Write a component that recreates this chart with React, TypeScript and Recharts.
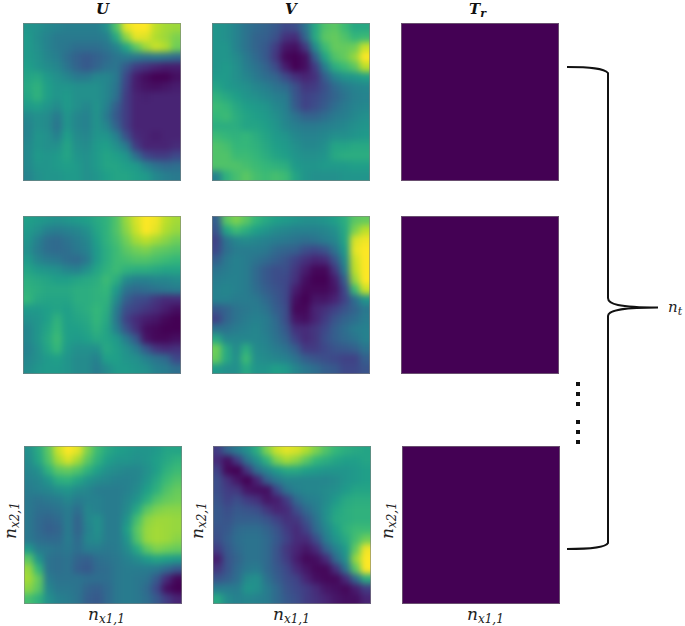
import { ScatterChart, Scatter, XAxis, YAxis } from 'recharts'

// values are 0-100 on the viridis scale, read row by row from the top of each panel
const uFirst = [
  [52, 50, 47, 45, 43, 43, 43, 43, 50, 72, 96, 100, 100, 90, 86, 85],
  [54, 49, 45, 41, 41, 41, 41, 41, 43, 60, 82, 96, 95, 88, 85, 80],
  [54, 50, 45, 41, 39, 36, 36, 36, 39, 45, 58, 74, 85, 92, 88, 78],
  [54, 51, 46, 43, 36, 31, 28, 31, 34, 39, 41, 40, 38, 40, 38, 34],
  [56, 52, 49, 46, 39, 32, 28, 32, 37, 39, 28, 18, 14, 10, 8, 8],
  [58, 60, 54, 50, 46, 41, 41, 46, 46, 41, 22, 8, 3, 0, 0, 4],
  [60, 64, 56, 52, 52, 50, 50, 50, 46, 39, 20, 8, 5, 4, 6, 8],
  [58, 64, 56, 52, 54, 50, 50, 50, 46, 37, 18, 10, 9, 10, 10, 10],
  [54, 56, 52, 48, 54, 50, 46, 51, 44, 30, 18, 10, 10, 10, 10, 10],
  [47, 50, 48, 41, 52, 46, 44, 51, 41, 28, 18, 10, 10, 10, 10, 10],
  [45, 50, 48, 39, 52, 46, 44, 51, 46, 32, 18, 10, 10, 10, 10, 10],
  [45, 52, 50, 44, 56, 48, 46, 52, 52, 44, 25, 12, 10, 8, 10, 10],
  [47, 52, 50, 50, 58, 50, 48, 54, 56, 50, 41, 18, 10, 10, 10, 12],
  [47, 54, 52, 54, 58, 52, 50, 54, 58, 56, 52, 36, 22, 18, 18, 22],
  [47, 52, 52, 54, 56, 54, 50, 54, 58, 58, 56, 54, 45, 38, 34, 36],
  [45, 50, 52, 52, 54, 54, 50, 52, 56, 58, 58, 56, 54, 47, 43, 41],
]

const vFirst = [
  [52, 50, 45, 38, 34, 32, 28, 22, 24, 38, 60, 72, 74, 68, 60, 60],
  [52, 50, 45, 38, 32, 30, 25, 14, 12, 32, 60, 74, 76, 72, 66, 68],
  [52, 52, 45, 38, 32, 28, 18, 6, 4, 16, 48, 68, 76, 76, 78, 92],
  [52, 52, 48, 41, 34, 28, 16, 2, 0, 4, 30, 58, 72, 76, 84, 100],
  [52, 54, 50, 43, 38, 32, 23, 8, 0, 4, 18, 43, 62, 68, 74, 90],
  [54, 54, 50, 46, 41, 36, 32, 23, 14, 10, 14, 30, 45, 51, 53, 57],
  [58, 54, 52, 50, 46, 43, 38, 34, 25, 16, 18, 25, 34, 41, 45, 47],
  [64, 60, 56, 52, 50, 47, 43, 41, 27, 20, 22, 27, 32, 38, 43, 45],
  [68, 66, 60, 56, 54, 52, 47, 43, 29, 20, 24, 29, 36, 41, 45, 47],
  [66, 68, 62, 58, 56, 54, 50, 45, 38, 32, 32, 36, 41, 43, 47, 50],
  [62, 62, 62, 58, 58, 56, 52, 47, 43, 41, 41, 43, 45, 47, 50, 52],
  [68, 66, 64, 66, 62, 58, 54, 52, 47, 45, 45, 47, 50, 50, 52, 54],
  [72, 70, 66, 66, 64, 60, 56, 54, 50, 47, 47, 50, 58, 58, 60, 60],
  [72, 72, 68, 68, 66, 62, 58, 56, 52, 50, 50, 52, 60, 62, 62, 62],
  [72, 72, 72, 70, 68, 66, 64, 62, 54, 52, 52, 54, 54, 54, 56, 56],
  [44, 64, 70, 74, 70, 68, 70, 68, 58, 52, 50, 50, 50, 52, 52, 52],
]

const uSecond = [
  [56, 54, 52, 50, 52, 54, 56, 60, 64, 72, 84, 94, 100, 98, 90, 86],
  [54, 50, 44, 42, 44, 46, 50, 58, 64, 72, 82, 92, 100, 96, 88, 84],
  [52, 44, 36, 34, 38, 42, 46, 56, 64, 70, 78, 86, 90, 86, 82, 78],
  [50, 42, 36, 34, 36, 40, 44, 54, 62, 68, 74, 78, 80, 76, 74, 72],
  [54, 46, 42, 40, 36, 34, 40, 54, 62, 68, 70, 72, 72, 70, 68, 66],
  [58, 54, 52, 50, 46, 44, 50, 58, 64, 68, 64, 62, 62, 60, 58, 58],
  [62, 60, 58, 56, 56, 58, 60, 62, 68, 62, 48, 44, 44, 46, 46, 48],
  [64, 62, 60, 60, 60, 62, 62, 64, 66, 54, 38, 34, 36, 38, 40, 42],
  [66, 60, 58, 58, 58, 62, 62, 64, 64, 48, 30, 24, 22, 16, 12, 12],
  [54, 54, 56, 58, 56, 60, 62, 66, 62, 42, 24, 20, 16, 12, 8, 4],
  [50, 52, 56, 64, 56, 58, 60, 66, 60, 40, 20, 12, 8, 6, 2, 0],
  [46, 52, 58, 66, 56, 56, 58, 64, 58, 44, 26, 14, 4, 2, 0, 0],
  [46, 52, 60, 68, 56, 54, 56, 60, 58, 54, 42, 28, 6, 2, 2, 4],
  [44, 50, 58, 66, 54, 50, 50, 50, 60, 56, 50, 42, 28, 16, 12, 14],
  [46, 50, 54, 56, 52, 48, 48, 44, 56, 56, 52, 50, 44, 38, 34, 22],
  [48, 52, 54, 54, 52, 48, 48, 42, 48, 54, 54, 52, 50, 44, 42, 36],
]

const vSecond = [
  [30, 74, 80, 74, 66, 60, 56, 54, 52, 50, 50, 52, 56, 62, 74, 76],
  [26, 58, 68, 62, 56, 52, 48, 46, 44, 44, 44, 46, 50, 60, 80, 90],
  [20, 38, 46, 48, 46, 44, 42, 40, 38, 36, 38, 42, 46, 58, 94, 98],
  [22, 36, 42, 42, 42, 40, 34, 32, 30, 24, 22, 26, 38, 54, 96, 100],
  [30, 40, 44, 42, 38, 34, 30, 26, 20, 14, 10, 12, 26, 48, 92, 100],
  [38, 42, 44, 42, 34, 28, 24, 24, 16, 8, 2, 2, 16, 42, 90, 100],
  [42, 44, 44, 42, 34, 28, 24, 22, 14, 4, 0, 0, 8, 30, 84, 100],
  [44, 46, 44, 42, 36, 30, 26, 22, 8, 2, 2, 2, 6, 22, 68, 92],
  [44, 44, 42, 42, 40, 34, 28, 22, 4, 0, 6, 6, 10, 20, 36, 52],
  [28, 32, 38, 40, 42, 38, 30, 24, 2, 2, 10, 14, 20, 26, 32, 40],
  [20, 32, 38, 42, 44, 42, 34, 24, 6, 4, 10, 18, 26, 32, 36, 42],
  [38, 38, 42, 44, 46, 42, 36, 28, 14, 12, 16, 22, 30, 36, 42, 44],
  [60, 46, 46, 46, 46, 44, 38, 32, 20, 12, 16, 24, 30, 34, 38, 44],
  [78, 60, 48, 62, 48, 46, 42, 38, 30, 18, 18, 22, 26, 28, 30, 38],
  [76, 60, 50, 68, 50, 48, 46, 44, 38, 30, 26, 24, 22, 20, 20, 30],
  [54, 50, 50, 60, 52, 52, 56, 54, 46, 40, 36, 30, 28, 22, 22, 26],
]

const uLast = [
  [50, 60, 74, 92, 100, 96, 80, 68, 60, 56, 54, 52, 52, 54, 58, 58],
  [48, 58, 72, 86, 94, 86, 74, 64, 56, 52, 52, 50, 52, 56, 60, 64],
  [46, 50, 64, 74, 76, 72, 64, 56, 50, 48, 46, 46, 50, 56, 64, 68],
  [44, 46, 52, 62, 64, 58, 52, 48, 46, 44, 44, 46, 52, 60, 68, 72],
  [42, 44, 46, 50, 52, 48, 46, 42, 42, 42, 44, 48, 56, 64, 72, 76],
  [40, 38, 40, 42, 46, 42, 44, 44, 42, 42, 46, 52, 62, 72, 76, 78],
  [40, 36, 36, 38, 42, 36, 46, 44, 42, 42, 48, 60, 74, 80, 82, 82],
  [40, 34, 32, 34, 42, 32, 46, 50, 42, 42, 52, 70, 82, 85, 85, 84],
  [40, 34, 30, 32, 42, 32, 44, 50, 42, 42, 56, 74, 84, 86, 85, 84],
  [40, 36, 34, 34, 42, 34, 46, 48, 42, 42, 52, 72, 84, 86, 85, 82],
  [54, 42, 40, 38, 40, 36, 42, 42, 40, 42, 48, 60, 74, 80, 78, 76],
  [74, 52, 38, 36, 38, 32, 30, 36, 38, 40, 44, 48, 54, 58, 56, 54],
  [84, 66, 38, 36, 38, 30, 28, 34, 36, 40, 42, 42, 42, 40, 34, 28],
  [86, 76, 42, 38, 38, 38, 36, 36, 36, 40, 42, 40, 38, 28, 12, 2],
  [82, 74, 46, 40, 40, 38, 32, 30, 34, 40, 42, 40, 34, 22, 4, 0],
  [70, 64, 50, 44, 42, 38, 30, 28, 34, 40, 42, 40, 36, 28, 18, 10],
]

const vLast = [
  [18, 32, 42, 50, 62, 80, 92, 96, 94, 88, 80, 72, 66, 62, 60, 58],
  [12, 4, 18, 38, 50, 64, 80, 86, 82, 74, 66, 62, 58, 56, 56, 58],
  [20, 2, 0, 16, 36, 46, 54, 60, 60, 56, 54, 52, 52, 52, 54, 56],
  [24, 14, 6, 0, 10, 30, 40, 46, 46, 46, 46, 46, 48, 52, 54, 56],
  [24, 18, 16, 6, 4, 4, 22, 38, 44, 46, 46, 48, 50, 54, 58, 58],
  [26, 20, 24, 18, 14, 6, 8, 18, 34, 42, 44, 48, 54, 60, 62, 62],
  [28, 24, 28, 26, 24, 16, 10, 12, 24, 34, 42, 50, 58, 62, 64, 64],
  [28, 26, 30, 30, 30, 26, 20, 14, 16, 26, 38, 50, 60, 62, 64, 64],
  [26, 28, 34, 36, 36, 32, 26, 18, 12, 20, 34, 46, 56, 64, 68, 68],
  [24, 30, 36, 38, 38, 34, 28, 20, 12, 12, 24, 42, 52, 60, 70, 78],
  [18, 28, 34, 38, 38, 34, 26, 16, 10, 6, 12, 30, 44, 54, 76, 98],
  [8, 26, 32, 38, 38, 34, 26, 18, 8, 2, 4, 12, 34, 50, 84, 100],
  [16, 26, 34, 40, 42, 34, 28, 22, 12, 6, 2, 2, 14, 38, 74, 100],
  [26, 30, 36, 48, 50, 38, 30, 24, 20, 10, 4, 2, 2, 12, 34, 62],
  [42, 42, 42, 52, 50, 42, 34, 26, 22, 18, 12, 6, 4, 2, 8, 18],
  [60, 48, 44, 46, 44, 42, 34, 28, 24, 18, 14, 10, 6, 4, 4, 10],
]

// the Tr panels are flat, one cell is enough
const trFlat = [[0]]

const columnTitles = ['U', 'V', 'T']
const VIRIDIS = ['#440154', '#482878', '#3e4989', '#31688e', '#26828e', '#1f9e89', '#35b779', '#6ece58', '#b5de2b', '#fde725']

const SIZE = 158
const PAD = 14

function hex(c: string) {
  return [1, 3, 5].map((i) => parseInt(c.slice(i, i + 2), 16))
}

function viridis(v: number) {
  const t = (Math.min(100, Math.max(0, v)) / 100) * (VIRIDIS.length - 1)
  const i = Math.min(VIRIDIS.length - 2, Math.floor(t))
  const a = hex(VIRIDIS[i])
  const b = hex(VIRIDIS[i + 1])
  const c = a.map((x, k) => Math.round(x + (b[k] - x) * (t - i)))
  return `rgb(${c[0]},${c[1]},${c[2]})`
}

// square cell, edge cells run on past the plot so the blur doesn't fade at the frame
function Cell(props: any) {
  const { cx, cy, payload } = props
  const { row, col, n, v } = payload
  const s = SIZE / n
  const x0 = col === 0 ? cx - s / 2 - PAD : cx - s / 2 - 0.5
  const x1 = col === n - 1 ? cx + s / 2 + PAD : cx + s / 2 + 0.5
  const y0 = row === 0 ? cy - s / 2 - PAD : cy - s / 2 - 0.5
  const y1 = row === n - 1 ? cy + s / 2 + PAD : cy + s / 2 + 0.5
  return <rect x={x0} y={y0} width={x1 - x0} height={y1 - y0} fill={viridis(v)} />
}

function Heatmap({ grid, left, top, blur }: { grid: number[][]; left: number; top: number; blur: number }) {
  const n = grid.length
  const data = grid.flatMap((r, row) => r.map((v, col) => ({ x: col + 0.5, y: row + 0.5, v, row, col, n })))
  return (
    <div style={{ position: 'absolute', left, top, width: SIZE, height: SIZE, overflow: 'hidden' }}>
      <div style={{ position: 'absolute', left: -PAD, top: -PAD, filter: `blur(${blur}px)` }}>
        <ScatterChart
          width={SIZE + PAD * 2}
          height={SIZE + PAD * 2}
          margin={{ top: PAD, right: PAD, bottom: PAD, left: PAD }}
        >
          <XAxis type="number" dataKey="x" domain={[0, n]} hide />
          <YAxis type="number" dataKey="y" domain={[0, n]} reversed hide />
          <Scatter data={data} shape={Cell} isAnimationActive={false} />
        </ScatterChart>
      </div>
      <div style={{ position: 'absolute', inset: 0, boxShadow: 'inset 0 0 0 1px rgba(130,130,130,0.6)' }} />
    </div>
  )
}

const MATH = { fontFamily: '"DejaVu Serif", serif', fontStyle: 'italic' as const, fill: '#222' }

function XLabel({ x }: { x: number }) {
  return (
    <text x={x} y={620} {...MATH} fontSize={17}>
      n<tspan fontSize={12} dy={3}>x1,1</tspan>
    </text>
  )
}

function YLabel({ x }: { x: number }) {
  return (
    <text transform={`translate(${x},539) rotate(-90)`} {...MATH} fontSize={17}>
      n<tspan fontSize={12} dy={3}>x2,1</tspan>
    </text>
  )
}

const dotRows = [384, 394, 404, 422, 432, 442]

export default function App() {
  return (
    <div style={{ position: 'absolute', left: 0, top: 0, width: 685, height: 626, background: '#fff', overflow: 'hidden' }}>
      <Heatmap grid={uFirst} left={23} top={23} blur={3} />
      <Heatmap grid={vFirst} left={212} top={23} blur={3} />
      <Heatmap grid={trFlat} left={401} top={23} blur={0} />
      <Heatmap grid={uSecond} left={23} top={216} blur={3} />
      <Heatmap grid={vSecond} left={212} top={216} blur={3} />
      <Heatmap grid={trFlat} left={401} top={216} blur={0} />
      <Heatmap grid={uLast} left={24} top={446} blur={3} />
      <Heatmap grid={vLast} left={213} top={446} blur={3} />
      <Heatmap grid={trFlat} left={402} top={446} blur={0} />
      <svg width={685} height={626} style={{ position: 'absolute', left: 0, top: 0 }}>
        <g fontFamily='"DejaVu Serif", serif' fontWeight="bold" fontStyle="italic" fontSize={15} fill="#111">
          <text x={96} y={14}>{columnTitles[0]}</text>
          <text x={285} y={14}>{columnTitles[1]}</text>
          <text x={469} y={14}>
            {columnTitles[2]}
            <tspan fontSize={11} dy={3}>r</tspan>
          </text>
        </g>
        <XLabel x={88} />
        <XLabel x={273} />
        <XLabel x={467} />
        <YLabel x={16} />
        <YLabel x={203} />
        <YLabel x={393} />
        <text x={668} y={312} {...MATH} fontSize={15}>
          n<tspan fontSize={11} dy={3}>t</tspan>
        </text>
        <path
          d="M567 67 C590 67 604 68 608 73 L608 298 C608 304 618 307.5 658 307.5 C618 307.5 608 311 608 316 L608 543 C606 547 590 549 567 549"
          fill="none"
          stroke="#111"
          strokeWidth={2}
        />
        {dotRows.map((y) => (
          <rect key={y} x={576} y={y - 2} width={4} height={4} fill="#111" />
        ))}
      </svg>
    </div>
  )
}
